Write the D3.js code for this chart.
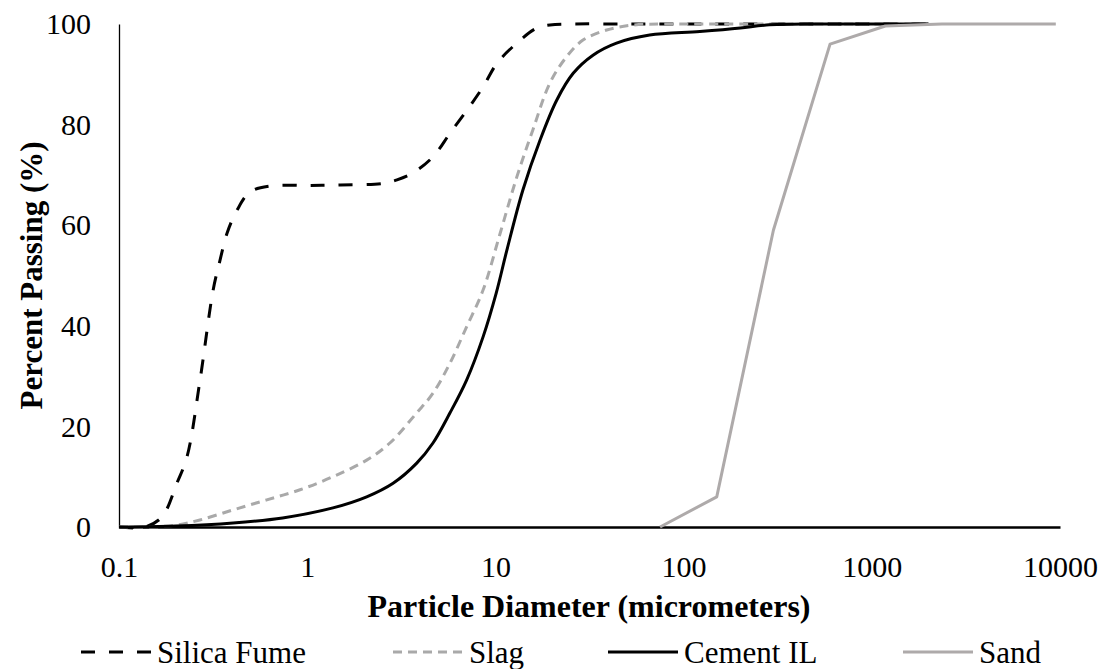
<!DOCTYPE html>
<html>
<head>
<meta charset="utf-8">
<script src="https://cdn.jsdelivr.net/npm/d3@7"></script>
<style>
  html, body { margin: 0; padding: 0; background: #fff; }
  svg { display: block; }
  svg text { font-family: 'Liberation Serif', 'Times New Roman', serif; fill: #000; }
</style>
</head>
<body>
<svg id="chart" width="1104" height="669"></svg>
<script>
// ---- data ----
const silicaD = [0.1, 0.137, 0.169, 0.203, 0.23, 0.269, 0.316, 0.344, 0.375, 0.424, 0.497, 0.634, 1.0, 1.5, 2.53, 3.0, 3.65, 4.66, 5.74, 7.07, 8.6, 10.2, 13, 16.6, 19.5, 25, 50, 100, 200, 500, 1000, 2000];
const silicaP = [0, 0, 2, 8.7, 14, 29, 47, 53, 58.4, 63, 66.6, 67.8, 67.9, 68, 68.3, 69, 70.4, 73.6, 78.3, 82.9, 87.5, 92.2, 96.2, 99.2, 99.8, 100, 100, 100, 100, 100, 100, 100];

const slagD = [0.1, 0.15, 0.203, 0.269, 0.404, 0.61, 0.916, 1.37, 2.07, 2.75, 3.82, 4.66, 5.74, 7.03, 8.6, 10.6, 13, 15.8, 19.5, 23.9, 29.2, 39, 54, 80, 150, 500, 2000];
const slagP = [0, 0, 0.4, 1.4, 3.4, 5.4, 7.4, 10, 13.3, 16.7, 22.7, 26.6, 32.6, 39.8, 47.1, 58.4, 69.6, 78.9, 88.3, 93.5, 96.8, 98.8, 99.8, 100, 100, 100, 100];

const cementD = [0.1, 0.2, 0.404, 0.74, 1.37, 2.07, 2.86, 3.82, 4.66, 5.74, 7.03, 8.6, 10.1, 11.5, 14, 17.3, 21.2, 25.9, 33, 44, 66, 122, 200, 275, 500, 1000, 2000];
const cementP = [0, 0.2, 0.8, 1.8, 3.8, 6, 8.7, 12.7, 16.7, 22.7, 29.2, 37.8, 46.5, 55, 67, 77, 84.9, 90.2, 93.8, 96.2, 97.8, 98.5, 99.2, 99.8, 100, 100, 100];

const sandD = [75, 150, 300, 600, 1180, 2360, 4750, 9500];
const sandP = [0, 6, 59, 96, 99.6, 100, 100, 100];

const xTicks = [0.1, 1, 10, 100, 1000, 10000];
const xTickLabels = ["0.1", "1", "10", "100", "1000", "10000"];
const yTicks = [0, 20, 40, 60, 80, 100];

const seriesNames = ["Silica Fume", "Slag", "Cement IL", "Sand"];

// ---- layout ----
const svg = d3.select("#chart");
const L = 119, R = 1060, T = 24, B = 527;
const FONT = 30;
const FF = "'Liberation Serif', 'Times New Roman', serif";

const x = d3.scaleLog().domain([0.1, 10000]).range([L, R]);
const y = d3.scaleLinear().domain([0, 100]).range([B, T]);

const smooth = d3.curveCatmullRom.alpha(0.5);
const styles = [
  { color: "#000000", width: 3, dash: "14,14", curve: smooth },
  { color: "#A9A9A9", width: 3, dash: "9,6", curve: smooth },
  { color: "#000000", width: 3, dash: null, curve: smooth },
  { color: "#AEAAAA", width: 3, dash: null, curve: d3.curveLinear }
];

const series = [
  silicaD.map((d, i) => [d, silicaP[i]]),
  slagD.map((d, i) => [d, slagP[i]]),
  cementD.map((d, i) => [d, cementP[i]]),
  sandD.map((d, i) => [d, sandP[i]])
];

// axes
const yAxis = svg.append("g")
  .attr("transform", `translate(${L},0)`)
  .call(d3.axisLeft(y).tickValues(yTicks).tickSize(0).tickPadding(28));
yAxis.attr("font-family", null);
yAxis.select(".domain").attr("stroke", "#000").attr("stroke-width", 1.3);
yAxis.selectAll("text").style("font-family", FF).style("font-size", FONT + "px");

const xAxis = svg.append("g")
  .attr("transform", `translate(0,${B})`)
  .call(d3.axisBottom(x).tickValues(xTicks).tickSize(0).tickFormat((d, i) => xTickLabels[i]));
xAxis.attr("font-family", null);
xAxis.select(".domain").attr("stroke", "#000").attr("stroke-width", 2.5);
xAxis.selectAll("text").style("font-family", FF).style("font-size", FONT + "px")
  .attr("y", 50).attr("dy", 0);

// lines
const plot = svg.append("g");
series.forEach((s, i) => {
  const st = styles[i];
  const line = d3.line().x(d => x(d[0])).y(d => y(d[1])).curve(st.curve);
  plot.append("path")
    .datum(s)
    .attr("fill", "none")
    .attr("stroke", st.color)
    .attr("stroke-width", st.width)
    .attr("stroke-dasharray", st.dash)
    .attr("stroke-linejoin", "round")
    .attr("d", line);
});

// axis titles
svg.append("text")
  .attr("x", 589).attr("y", 617)
  .attr("text-anchor", "middle")
  .style("font-family", FF).style("font-size", "32px").style("font-weight", "bold")
  .text("Particle Diameter (micrometers)");

svg.append("text")
  .attr("transform", `translate(42,${(T + B) / 2}) rotate(-90)`)
  .attr("text-anchor", "middle")
  .style("font-family", FF).style("font-size", "31px").style("font-weight", "bold")
  .text("Percent Passing (%)");

// legend
const legendX = [81, 393, 608, 903];
const legY = 652;
seriesNames.forEach((name, i) => {
  const st = styles[i];
  svg.append("line")
    .attr("x1", legendX[i]).attr("x2", legendX[i] + 70)
    .attr("y1", legY).attr("y2", legY)
    .attr("stroke", st.color).attr("stroke-width", st.width)
    .attr("stroke-dasharray", st.dash);
  svg.append("text")
    .attr("x", legendX[i] + 76).attr("y", legY + 11)
    .style("font-family", FF).style("font-size", "31px")
    .text(name);
});
</script>
</body>
</html>
